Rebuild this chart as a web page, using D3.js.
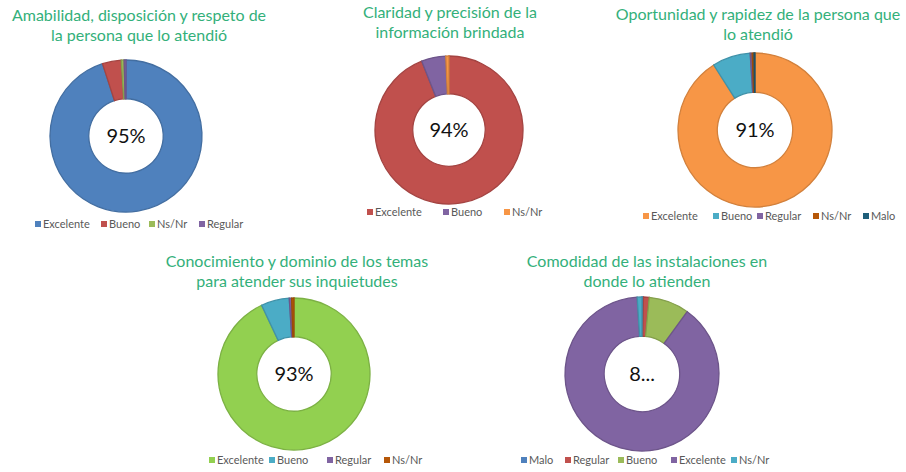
<!DOCTYPE html>
<html>
<head>
<meta charset="utf-8">
<script src="https://cdn.jsdelivr.net/npm/d3@7"></script>
<style>
  body { margin: 0; background: #fff; }
  svg { display: block; }
</style>
</head>
<body>
<div id="chart"></div>
<script>
// Chart data
const titles = [
    ["Amabilidad, disposición y respeto de", "la persona que lo atendió"],
    ["Claridad y precisión de la", "información brindada"],
    ["Oportunidad y rapidez de la persona que", "lo atendió"],
    ["Conocimiento y dominio de los temas", "para atender sus inquietudes"],
    ["Comodidad de las instalaciones en", "donde lo atienden"]
];
const categories = [
    ["Excelente", "Bueno", "Ns/Nr", "Regular"],
    ["Excelente", "Bueno", "Ns/Nr"],
    ["Excelente", "Bueno", "Regular", "Ns/Nr", "Malo"],
    ["Excelente", "Bueno", "Regular", "Ns/Nr"],
    ["Malo", "Regular", "Bueno", "Excelente", "Ns/Nr"]
];
const values = [
    [95, 4, 0.6, 0.4],
    [94, 5.3, 0.7],
    [91, 8, 0.4, 0.4, 0.2],
    [93, 6, 0.5, 0.5],
    [0.3, 1.2, 8.5, 89, 1]
];
const centerLabels = ["95%", "94%", "91%", "93%", "8..."];
const colors = [
    ["#4f81bd", "#c0504d", "#9bbb59", "#8064a2"],
    ["#c0504d", "#8064a2", "#f79646"],
    ["#f79646", "#4bacc6", "#8064a2", "#b65708", "#1f5f7a"],
    ["#92d050", "#4bacc6", "#8064a2", "#b65708"],
    ["#4f81bd", "#c0504d", "#9bbb59", "#8064a2", "#4bacc6"]
];

// Layout of each panel (positions only)
const layout = [
    { cx: 126, cy: 136, r: 76, tx: 139, ty: 21, ly: 225, lx: [35, 101, 149, 199] },
    { cx: 449, cy: 130, r: 74, tx: 450, ty: 18, ly: 213, lx: [367, 443, 504] },
    { cx: 755, cy: 130, r: 77, tx: 758, ty: 20, ly: 217, lx: [643, 713, 757, 813, 863] },
    { cx: 294, cy: 374, r: 76, tx: 297, ty: 267, ly: 461, lx: [209, 269, 327, 384] },
    { cx: 642, cy: 374, r: 77, tx: 647, ty: 267, ly: 461, lx: [521, 565, 618, 671, 731] }
];

const W = 906, H = 472;
const svg = d3.select("#chart").append("svg")
    .attr("width", W)
    .attr("height", H);

const font = "'Lato', 'Open Sans', sans-serif";

const pie = d3.pie().sort(null).value(d => d.v);

titles.forEach((t, i) => {
    const L = layout[i];
    const g = svg.append("g");

    // title
    g.append("text")
        .attr("text-anchor", "middle")
        .attr("x", L.tx)
        .attr("y", L.ty)
        .style("font-family", font)
        .style("font-size", "16px")
        .style("fill", "#33b07a")
        .selectAll("tspan")
        .data(t)
        .join("tspan")
        .attr("x", L.tx)
        .attr("dy", (d, j) => j === 0 ? 0 : 20)
        .text(d => d);

    // donut
    const data = categories[i].map((c, j) => ({ c: c, v: values[i][j], col: colors[i][j] }));
    const arc = d3.arc().innerRadius(L.r * 0.49).outerRadius(L.r);
    const donut = g.append("g").attr("transform", "translate(" + L.cx + "," + L.cy + ")");
    donut.selectAll("path")
        .data(pie(data))
        .join("path")
        .attr("d", arc)
        .attr("fill", d => d.data.col)
        .attr("stroke", d => d3.color(d.data.col).darker(0.45))
        .attr("stroke-width", 1.3);

    donut.append("text")
        .attr("text-anchor", "middle")
        .attr("dy", "0.35em")
        .style("font-family", font)
        .style("font-size", "20px")
        .style("fill", "#111")
        .text(centerLabels[i]);

    // legend
    const leg = g.selectAll(".leg")
        .data(data)
        .join("g")
        .attr("transform", (d, j) => "translate(" + L.lx[j] + "," + L.ly + ")");
    leg.append("rect")
        .attr("x", 0)
        .attr("y", -4)
        .attr("width", 6)
        .attr("height", 6)
        .attr("fill", d => d.col);
    leg.append("text")
        .attr("x", 8)
        .attr("y", 3)
        .style("font-family", font)
        .style("font-size", "11px")
        .style("fill", "#595959")
        .text(d => d.c);
});
</script>
</body>
</html>
